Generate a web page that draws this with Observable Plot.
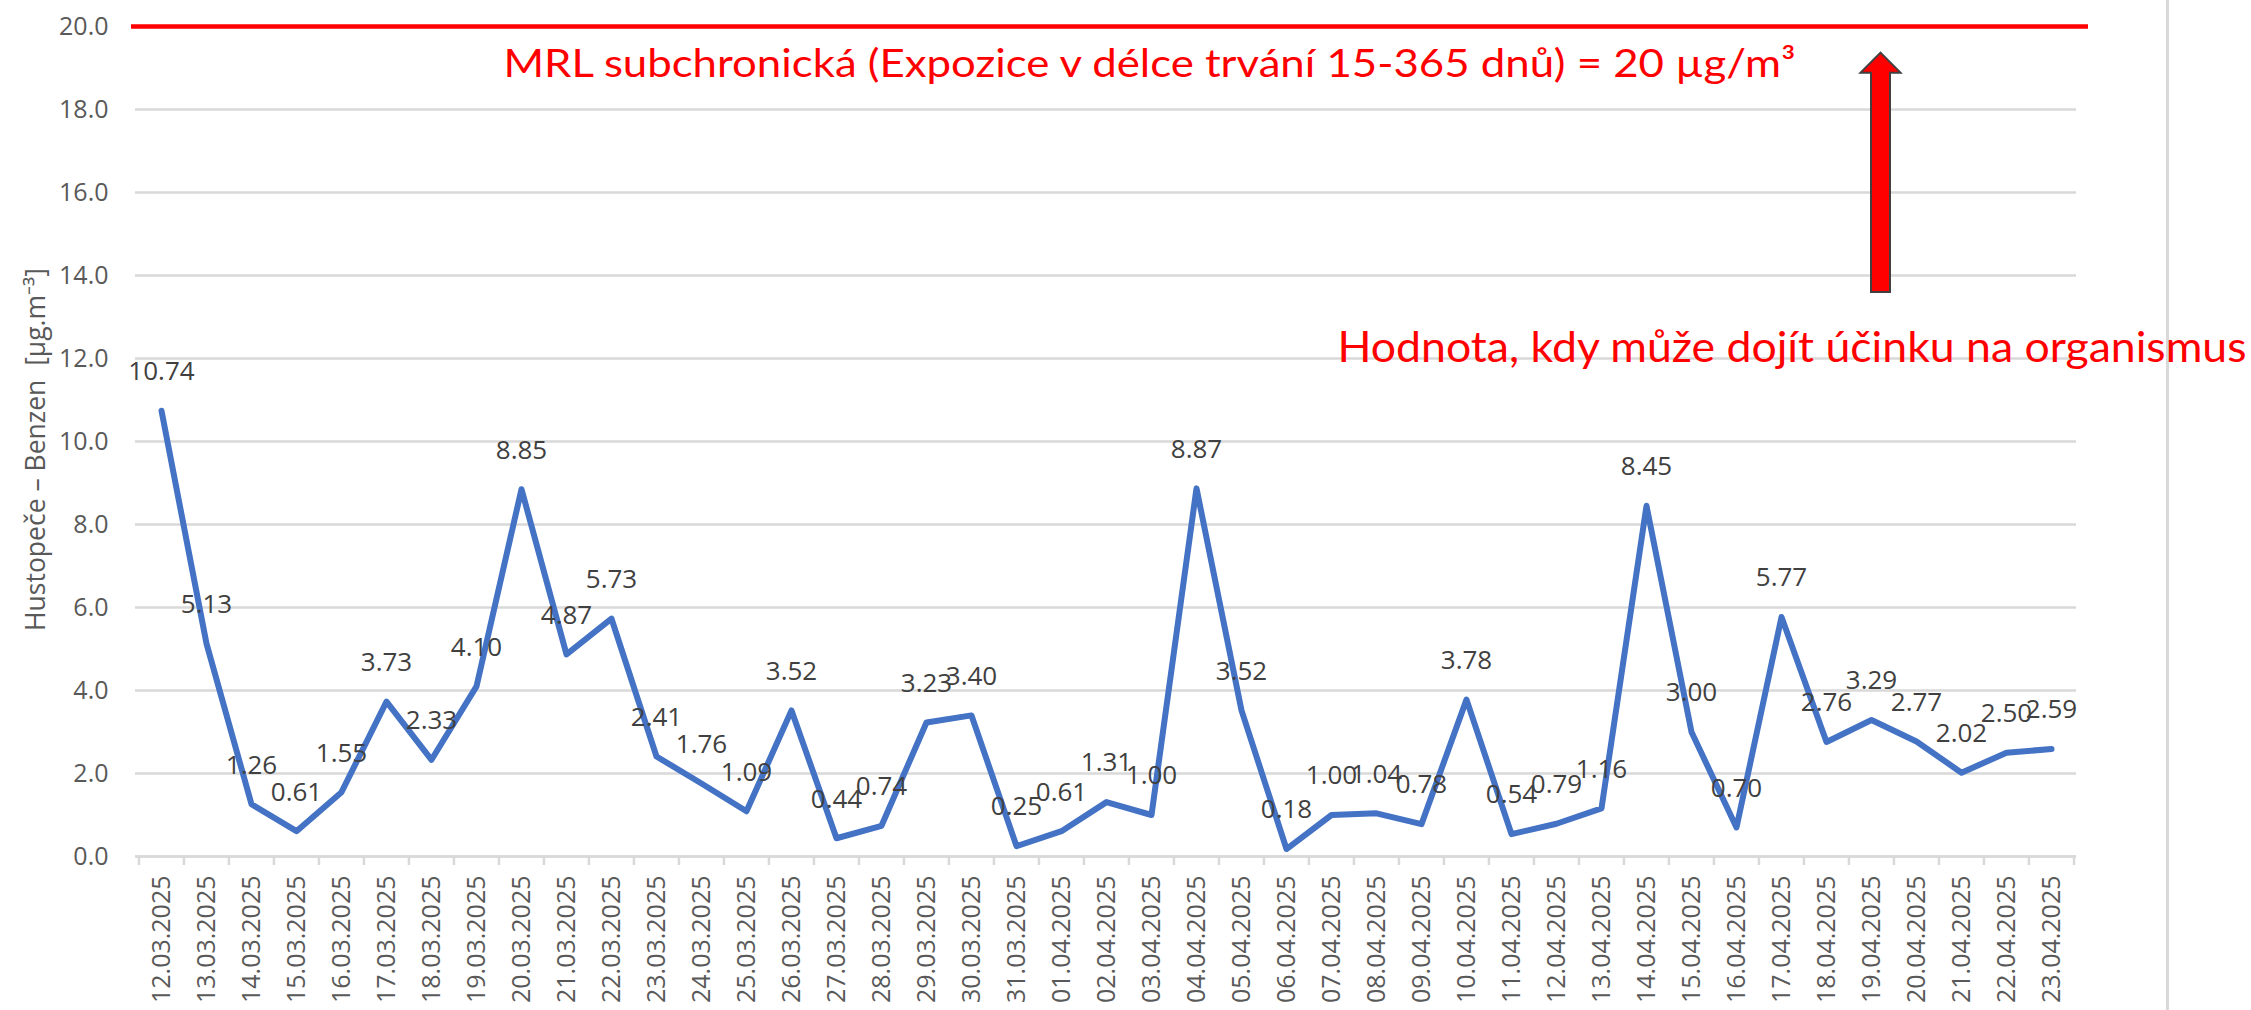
<!DOCTYPE html>
<html><head><meta charset="utf-8">
<script src="https://cdn.jsdelivr.net/npm/d3@7"></script>
<script src="https://cdn.jsdelivr.net/npm/@observablehq/plot@0.6"></script>
<style>
html,body{margin:0;padding:0;background:#fff;}
#wrap{position:relative;width:2251px;height:1010px;overflow:hidden;}
#wrap svg{position:absolute;left:0;top:0;}
#border{position:absolute;left:2165.5px;top:0;width:3px;height:1010px;background:#d9d9d9;}
</style></head><body><div id="wrap"><div id="border"></div></div>
<script>
const dates = ["12.03.2025","13.03.2025","14.03.2025","15.03.2025","16.03.2025","17.03.2025","18.03.2025","19.03.2025","20.03.2025","21.03.2025","22.03.2025","23.03.2025","24.03.2025","25.03.2025","26.03.2025","27.03.2025","28.03.2025","29.03.2025","30.03.2025","31.03.2025","01.04.2025","02.04.2025","03.04.2025","04.04.2025","05.04.2025","06.04.2025","07.04.2025","08.04.2025","09.04.2025","10.04.2025","11.04.2025","12.04.2025","13.04.2025","14.04.2025","15.04.2025","16.04.2025","17.04.2025","18.04.2025","19.04.2025","20.04.2025","21.04.2025","22.04.2025","23.04.2025"];
const values = [10.74,5.13,1.26,0.61,1.55,3.73,2.33,4.10,8.85,4.87,5.73,2.41,1.76,1.09,3.52,0.44,0.74,3.23,3.40,0.25,0.61,1.31,1.00,8.87,3.52,0.18,1.00,1.04,0.78,3.78,0.54,0.79,1.16,8.45,3.00,0.70,5.77,2.76,3.29,2.77,2.02,2.50,2.59];
const yTicks = [0,2,4,6,8,10,12,14,16,18,20];
const mrlValue = 20;
const mrlLabel = "MRL subchronická (Expozice v délce trvání 15-365 dnů) = 20 µg/m³";
const effectLabel = "Hodnota, kdy může dojít účinku na organismus";
const yLabel = "Hustopeče – Benzen  [µg.m⁻³]";
const arrowDate = "19.04.2025";
const arrowFrom = 13.6;
const arrowTo = 19.37;

const W = 2251, H = 1010, ML = 135, MR = 175, MT = 26, MB = 154;
const step = (W - ML - MR) / dates.length;
const pxPerUnit = (H - MT - MB) / 20;
const data = dates.map((d, i) => ({date: d, value: values[i]}));
const arrowData = [{date: arrowDate, from: arrowFrom}];

const blockArrow = {
  draw(ctx, l) {
    const s = 9.5, hw = 20, hh = 20;
    ctx.moveTo(-s, 0);
    ctx.lineTo(-s, -l + hh);
    ctx.lineTo(-hw, -l + hh);
    ctx.lineTo(0, -l);
    ctx.lineTo(hw, -l + hh);
    ctx.lineTo(s, -l + hh);
    ctx.lineTo(s, 0);
    ctx.closePath();
  }
};

const chart = Plot.plot({
  width: W, height: H,
  marginLeft: ML, marginRight: MR, marginTop: MT, marginBottom: MB,
  style: {fontFamily: "'Open Sans', sans-serif", background: "transparent", overflow: "visible"},
  x: {type: "point", domain: dates, padding: 0.5, label: null},
  y: {domain: [0, 20], label: null},
  marks: [
    Plot.gridY(yTicks, {stroke: "#d9d9d9", strokeOpacity: 1, strokeWidth: 2.5}),
    Plot.ruleY([0], {stroke: "#d9d9d9", strokeWidth: 2.5}),
    Plot.axisX(dates, {tickSize: 9, text: null, stroke: "#d9d9d9", strokeWidth: 2.5, dx: -step / 2}),
    Plot.axisX([dates[dates.length - 1]], {tickSize: 9, text: null, stroke: "#d9d9d9", strokeWidth: 2.5, dx: step / 2}),
    Plot.axisX(dates, {tickSize: 0, tickPadding: 19, tickRotate: -90, fontSize: 25, fill: "#595959", label: null}),
    Plot.axisY(yTicks, {tickSize: 0, tickPadding: 27, tickFormat: d => d.toFixed(1), fontSize: 25, fill: "#595959", label: null}),
    Plot.text([yLabel], {frameAnchor: "left", textAnchor: "middle", rotate: -90, dx: -99, dy: 8, fontSize: 26.5, fill: "#595959"}),
    Plot.ruleY([mrlValue], {stroke: "#ff0000", strokeWidth: 4.5, insetLeft: -4, insetRight: -12}),
    Plot.line(data, {x: "date", y: "value", stroke: "#4472C4", strokeWidth: 6, strokeLinejoin: "round", strokeLinecap: "round"}),
    Plot.text(data, {x: "date", y: "value", text: d => d.value.toFixed(2), dy: -39, fontSize: 26, fill: "#404040"}),
    Plot.text([mrlLabel], {frameAnchor: "top-left", textAnchor: "start", lineAnchor: "bottom", dx: 368, dy: 50.7, fontSize: 39, fontFamily: "Lato", fill: "#ff0000"}),
    Plot.text([effectLabel], {frameAnchor: "top-left", textAnchor: "start", lineAnchor: "bottom", dx: 1202, dy: 335.7, fontSize: 42, fontFamily: "Lato", fill: "#ff0000"}),
    Plot.vector(arrowData, {x: "date", y: "from", anchor: "start", length: (arrowTo - arrowFrom) * pxPerUnit, rotate: 0, shape: blockArrow, fill: "#ff0000", stroke: "#404040", strokeWidth: 2, strokeLinejoin: "miter", dx: 9})
  ]
});

chart.querySelectorAll("text").forEach(t => {
  if (t.textContent === mrlLabel) { t.setAttribute("textLength", 1292); t.setAttribute("lengthAdjust", "spacingAndGlyphs"); }
  if (t.textContent === effectLabel) { t.setAttribute("textLength", 909); t.setAttribute("lengthAdjust", "spacingAndGlyphs"); }
});
document.getElementById("wrap").appendChild(chart);
</script>
</body></html>
